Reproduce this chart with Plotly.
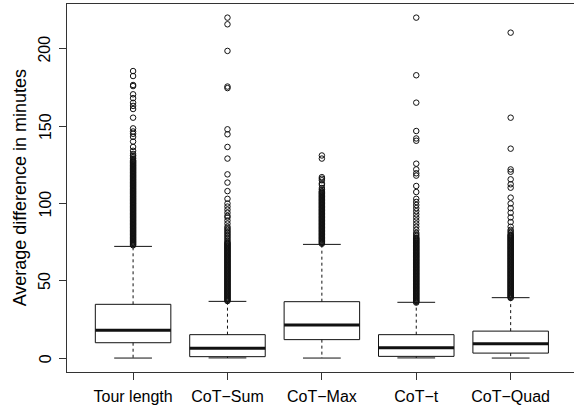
import plotly.graph_objects as go

# ---------------- data ----------------
categories = ["Tour length", "CoT\u2212Sum", "CoT\u2212Max", "CoT\u2212t", "CoT\u2212Quad"]
lower_whisker = [0.2, 0.3, 0.2, 0.3, 0.2]
q1 = [10.1, 1.1, 12.1, 1.3, 3.4]
median = [18.1, 6.5, 21.5, 6.9, 9.5]
q3 = [34.9, 15.3, 36.6, 15.3, 17.6]
upper_whisker = [72.3, 36.8, 73.6, 36.2, 39.2]

outliers_tour = [185.5, 182.3, 176.5, 175.8, 170.5, 168, 165, 163, 161, 155.4,
                 148.5, 146.5, 145, 143, 140, 136.5, 134,
                 132, 131, 130, 129, 128, 127, 126, 125, 124, 123, 122, 121, 120,
                 119, 118, 117, 116, 115, 114, 113, 112, 111, 110, 109, 108, 107,
                 106, 105, 104, 103, 102, 101, 100, 99, 98, 97, 96, 95, 94, 93, 92,
                 91, 90, 89, 88, 87, 86, 85, 84, 83, 82, 81, 80, 79, 78, 77, 76, 75,
                 74, 73,
                 127.5, 126.5, 125.5, 124.5, 123.5, 122.5, 121.5, 120.5, 119.5, 118.5,
                 117.5, 116.5, 115.5, 114.5, 113.5, 112.5, 111.5, 110.5, 109.5, 108.5,
                 107.5, 106.5, 105.5, 104.5, 103.5, 102.5, 101.5, 100.5, 99.5, 98.5,
                 97.5, 96.5, 95.5, 94.5, 93.5, 92.5, 91.5, 90.5, 89.5, 88.5, 87.5,
                 86.5, 85.5, 84.5, 83.5, 82.5, 81.5, 80.5, 79.5, 78.5, 77.5, 76.5,
                 75.5, 74.5, 73.5]
outliers_sum = [220, 215.7, 198.5, 175.5, 174.5, 147.9, 144.7, 136.5, 129, 118.8,
                113.5, 108, 103, 100, 98, 96, 94, 92, 91, 89, 87,
                85, 84, 83, 82, 81, 80, 79, 78, 77, 76, 75, 74, 73, 72, 71, 70, 69,
                68, 67, 66, 65, 64, 63, 62, 61, 60, 59, 58, 57, 56, 55, 54, 53, 52,
                51, 50, 49, 48, 47, 46, 45, 44, 43, 42, 41, 40, 39, 38, 37,
                74.5, 73.5, 72.5, 71.5, 70.5, 69.5, 68.5, 67.5, 66.5, 65.5, 64.5,
                63.5, 62.5, 61.5, 60.5, 59.5, 58.5, 57.5, 56.5, 55.5, 54.5, 53.5,
                52.5, 51.5, 50.5, 49.5, 48.5, 47.5, 46.5, 45.5, 44.5, 43.5, 42.5,
                41.5, 40.5, 39.5, 38.5, 37.5]
outliers_max = [131, 129, 117, 116, 115, 113, 112, 110,
                109, 108, 107, 106, 105, 104, 103, 102, 101, 100, 99, 98, 97, 96,
                95, 94, 93, 92, 91, 90, 89, 88, 87, 86, 85, 84, 83, 82, 81, 80, 79,
                78, 77, 76, 75, 74,
                107.5, 106.5, 105.5, 104.5, 103.5, 102.5, 101.5, 100.5, 99.5, 98.5,
                97.5, 96.5, 95.5, 94.5, 93.5, 92.5, 91.5, 90.5, 89.5, 88.5, 87.5,
                86.5, 85.5, 84.5, 83.5, 82.5, 81.5, 80.5, 79.5, 78.5, 77.5, 76.5,
                75.5, 74.5]
outliers_t = [220, 182.8, 165.1, 146.8, 142, 140.5, 125.7, 122, 119.5, 118, 111.3,
              107.4, 103, 101, 99, 97, 95, 93, 91, 89, 87, 85, 83, 81,
              80, 79, 78, 77, 76, 75, 74, 73, 72, 71, 70, 69, 68, 67, 66, 65, 64,
              63, 62, 61, 60, 59, 58, 57, 56, 55, 54, 53, 52, 51, 50, 49, 48, 47,
              46, 45, 44, 43, 42, 41, 40, 39, 38, 37, 36,
              77.5, 76.5, 75.5, 74.5, 73.5, 72.5, 71.5, 70.5, 69.5, 68.5, 67.5,
              66.5, 65.5, 64.5, 63.5, 62.5, 61.5, 60.5, 59.5, 58.5, 57.5, 56.5,
              55.5, 54.5, 53.5, 52.5, 51.5, 50.5, 49.5, 48.5, 47.5, 46.5, 45.5,
              44.5, 43.5, 42.5, 41.5, 40.5, 39.5, 38.5, 37.5, 36.5]
outliers_quad = [210.3, 155.4, 135.4, 122, 120.5, 115.6, 112.4, 110.2, 103.8, 100,
                 97, 94, 91, 88, 85,
                 83, 82, 81, 80, 79, 78, 77, 76, 75, 74, 73, 72, 71, 70, 69, 68,
                 67, 66, 65, 64, 63, 62, 61, 60, 59, 58, 57, 56, 55, 54, 53, 52, 51,
                 50, 49, 48, 47, 46, 45, 44, 43, 42, 41, 40, 39,
                 79.5, 78.5, 77.5, 76.5, 75.5, 74.5, 73.5, 72.5, 71.5, 70.5, 69.5,
                 68.5, 67.5, 66.5, 65.5, 64.5, 63.5, 62.5, 61.5, 60.5, 59.5, 58.5,
                 57.5, 56.5, 55.5, 54.5, 53.5, 52.5, 51.5, 50.5, 49.5, 48.5, 47.5,
                 46.5, 45.5, 44.5, 43.5, 42.5, 41.5, 40.5, 39.5]
outliers = [outliers_tour, outliers_sum, outliers_max, outliers_t, outliers_quad]
y_ticks = [0, 50, 100, 150, 200]

# ---------------- styles ----------------
BOX_HALF = 0.4
STAPLE_HALF = 0.2
INK = "#111111"
FONT = "Liberation Sans, Arial, Helvetica, sans-serif"

positions = [i + 1 for i in range(len(categories))]

box_x, box_y = [], []
med_x, med_y = [], []
wh_x, wh_y = [], []
cap_x, cap_y = [], []
for p, lo, a, m, b, hi in zip(positions, lower_whisker, q1, median, q3, upper_whisker):
    box_x += [p - BOX_HALF, p + BOX_HALF, p + BOX_HALF, p - BOX_HALF, p - BOX_HALF, None]
    box_y += [a, a, b, b, a, None]
    med_x += [p - BOX_HALF, p + BOX_HALF, None]
    med_y += [m, m, None]
    wh_x += [p, p, None, p, p, None]
    wh_y += [b, hi, None, a, lo, None]
    cap_x += [p - STAPLE_HALF, p + STAPLE_HALF, None, p - STAPLE_HALF, p + STAPLE_HALF, None]
    cap_y += [hi, hi, None, lo, lo, None]

fig = go.Figure()
fig.add_trace(go.Scatter(x=wh_x, y=wh_y, mode="lines",
                         line=dict(color=INK, width=1, dash="3px,3px"), hoverinfo="skip"))
fig.add_trace(go.Scatter(x=cap_x, y=cap_y, mode="lines",
                         line=dict(color=INK, width=1), hoverinfo="skip"))
fig.add_trace(go.Scatter(x=box_x, y=box_y, mode="lines",
                         line=dict(color=INK, width=1), hoverinfo="skip"))
fig.add_trace(go.Scatter(x=med_x, y=med_y, mode="lines",
                         line=dict(color=INK, width=3), hoverinfo="skip"))
for p, vals in zip(positions, outliers):
    fig.add_trace(go.Scatter(x=[p] * len(vals), y=vals, mode="markers",
                             marker=dict(symbol="circle-open", size=5.5,
                                         color=INK, line=dict(width=1, color=INK))))

# rotated y tick labels (R style), placed at the tick values
tick_annotations = [dict(text=str(v), xref="paper", yref="y", x=-0.0434, y=v,
                         xanchor="center", yanchor="middle", textangle=-90,
                         showarrow=False, font=dict(family=FONT, size=16, color="black"))
                    for v in y_ticks]

fig.update_layout(
    width=574, height=408,
    margin=dict(l=67, r=0, t=4, b=36),
    plot_bgcolor="white", paper_bgcolor="white",
    showlegend=False,
    font=dict(family=FONT, size=16, color="black"),
    annotations=[dict(text="Average difference in minutes", xref="paper", yref="paper",
                      x=-0.092, y=0.5, xanchor="center", yanchor="middle",
                      textangle=-90, showarrow=False,
                      font=dict(family=FONT, size=18, color="black"))] + tick_annotations,
)
fig.update_xaxes(range=[0.3, 5.671], tickmode="array", tickvals=positions, ticktext=categories,
                 showline=True, linecolor="#333333", linewidth=1, mirror=True,
                 ticks="outside", ticklen=7, tickcolor="#333333",
                 ticklabelstandoff=3, tickfont=dict(color="black", size=16),
                 showgrid=False, zeroline=False)
fig.update_yaxes(range=[-8.8, 228.8], tickmode="array", tickvals=y_ticks,
                 showticklabels=False,
                 showline=True, linecolor="#333333", linewidth=1, mirror=False,
                 ticks="outside", ticklen=7, tickcolor="#333333",
                 showgrid=False, zeroline=False)

fig.write_html("out.html", config={"displayModeBar": False},
               post_script="document.body.style.margin='0px';")
